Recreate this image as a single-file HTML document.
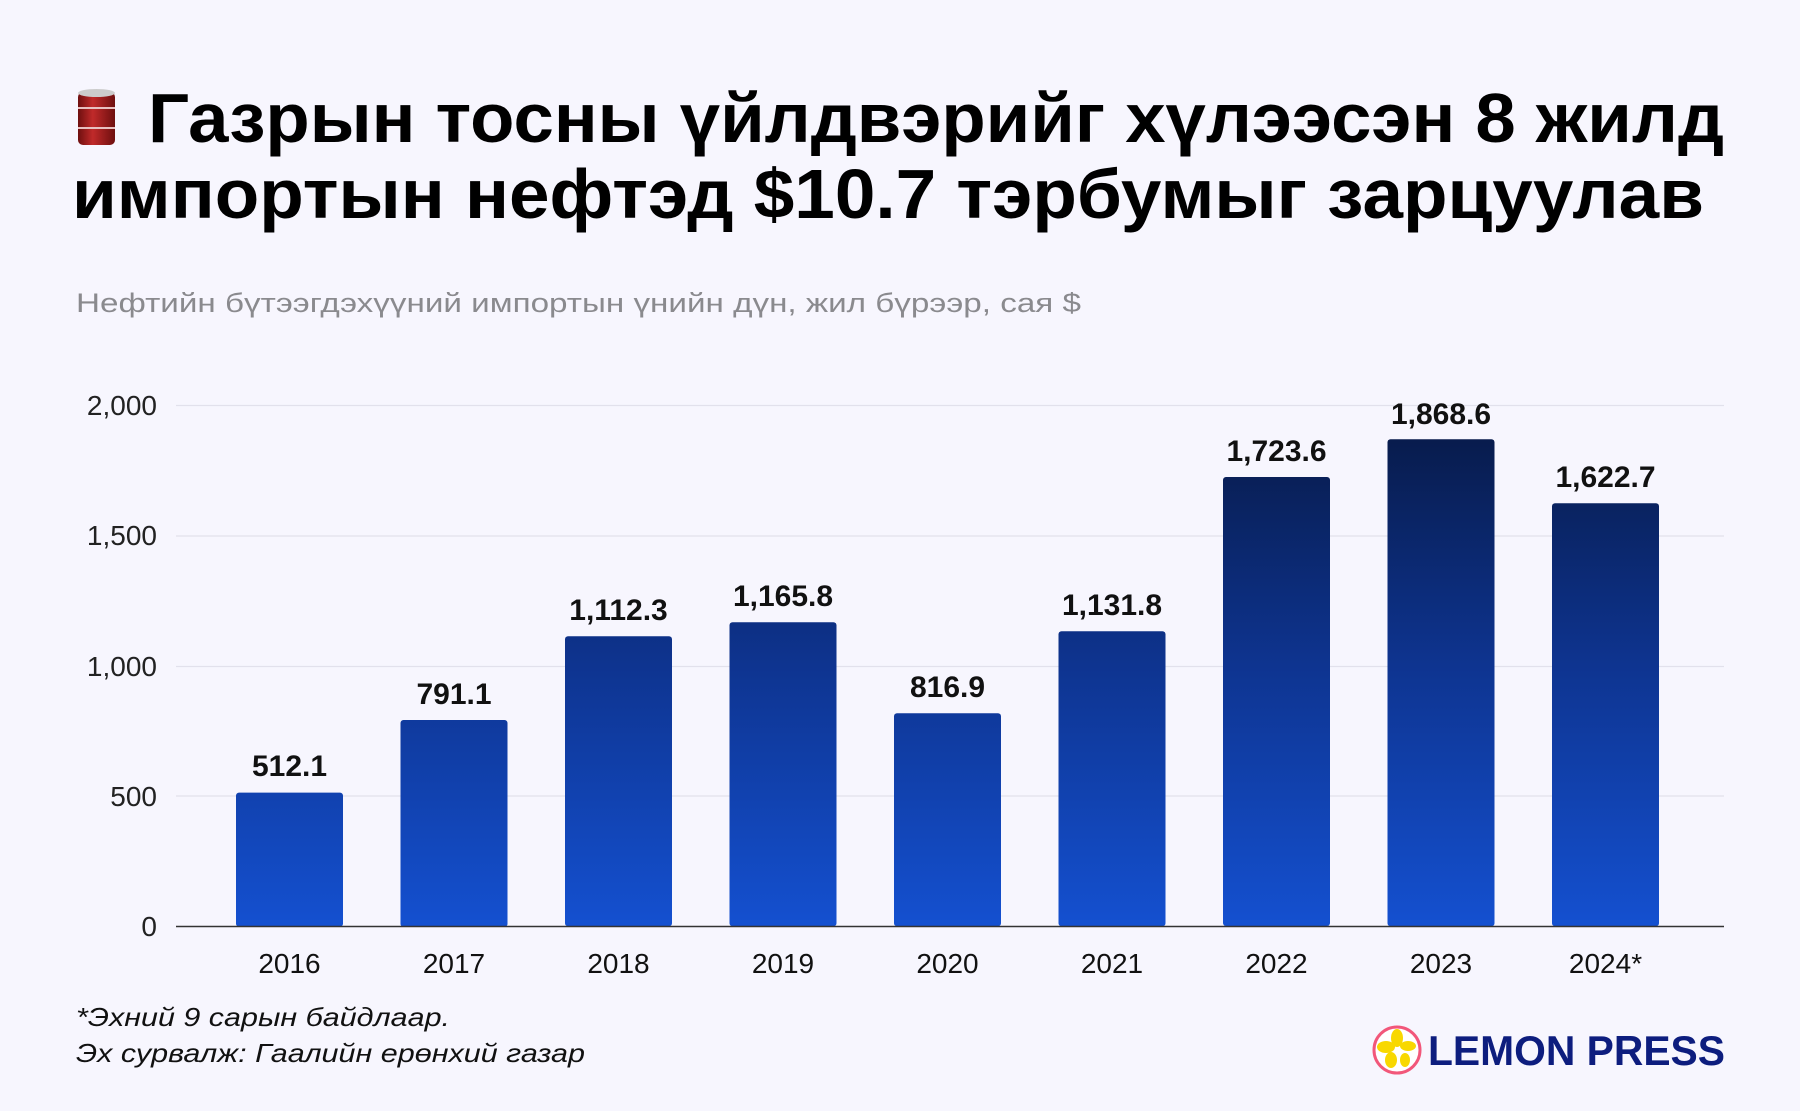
<!DOCTYPE html>
<html><head><meta charset="utf-8"><style>
html,body{margin:0;padding:0;background:#f7f6fe;}
svg{display:block}
</style></head><body>
<svg width="1800" height="1111" viewBox="0 0 1800 1111" xmlns="http://www.w3.org/2000/svg" font-family="'Liberation Sans', sans-serif">
<defs>
<linearGradient id="g" gradientUnits="userSpaceOnUse" x1="0" y1="405" x2="0" y2="926">
<stop offset="0" stop-color="#071843"/>
<stop offset="0.5" stop-color="#0e3490"/>
<stop offset="1" stop-color="#1450d0"/>
</linearGradient>
<linearGradient id="barrel" x1="0" x2="1" y1="0" y2="0">
<stop offset="0" stop-color="#6e0f0f"/><stop offset="0.4" stop-color="#c02a2a"/><stop offset="1" stop-color="#6e0f0f"/>
</linearGradient>
</defs>
<rect width="1800" height="1111" fill="#f7f6fe"/>
<!-- barrel -->
<rect x="78" y="92" width="37" height="53" rx="5" fill="url(#barrel)"/>
<ellipse cx="96.5" cy="93" rx="18.5" ry="4" fill="#ccc"/>
<line x1="78" y1="108" x2="115" y2="108" stroke="#e8c0c0" stroke-width="2"/>
<line x1="78" y1="128" x2="115" y2="128" stroke="#e8c0c0" stroke-width="2"/>
<g font-weight="bold" font-size="70" fill="#000">
<text x="148" y="142" textLength="1576" lengthAdjust="spacingAndGlyphs">Газрын тосны үйлдвэрийг хүлээсэн 8 жилд</text>
<text x="72" y="218" textLength="1632" lengthAdjust="spacingAndGlyphs">импортын нефтэд $10.7 тэрбумыг зарцуулав</text>
</g>
<text x="76" y="312" font-size="27" fill="#8a8a8e" textLength="1005" lengthAdjust="spacingAndGlyphs">Нефтийн бүтээгдэхүүний импортын үнийн дүн, жил бүрээр, сая $</text>
<!-- grid -->
<g stroke="#e2e1ec" stroke-width="1.2">
<line x1="176" x2="1724" y1="405.5" y2="405.5"/>
<line x1="176" x2="1724" y1="536" y2="536"/>
<line x1="176" x2="1724" y1="666.5" y2="666.5"/>
<line x1="176" x2="1724" y1="796" y2="796"/>
</g>
<g font-size="28" fill="#222" text-anchor="end">
<text x="157" y="415">2,000</text>
<text x="157" y="545">1,500</text>
<text x="157" y="676">1,000</text>
<text x="157" y="806">500</text>
<text x="157" y="936">0</text>
</g>
<g fill="url(#g)">
<rect x="236" y="792.6" width="107" height="134" rx="3"/>
<rect x="400.5" y="720" width="107" height="207" rx="3"/>
<rect x="565" y="636.3" width="107" height="290" rx="3"/>
<rect x="729.5" y="622.3" width="107" height="304" rx="3"/>
<rect x="894" y="713.2" width="107" height="213" rx="3"/>
<rect x="1058.5" y="631.2" width="107" height="295" rx="3"/>
<rect x="1223" y="477" width="107" height="449" rx="3"/>
<rect x="1387.5" y="439.2" width="107" height="487" rx="3"/>
<rect x="1552" y="503.3" width="107" height="423" rx="3"/>
</g>
<line x1="176" x2="1724" y1="926.5" y2="926.5" stroke="#333" stroke-width="1.5"/>
<g font-size="30" font-weight="bold" fill="#111" text-anchor="middle">
<text x="289.5" y="776">512.1</text>
<text x="454" y="704">791.1</text>
<text x="618.5" y="620">1,112.3</text>
<text x="783" y="606">1,165.8</text>
<text x="947.5" y="697">816.9</text>
<text x="1112" y="615">1,131.8</text>
<text x="1276.5" y="461">1,723.6</text>
<text x="1441" y="424">1,868.6</text>
<text x="1605.5" y="487">1,622.7</text>
</g>
<g font-size="28" fill="#111" text-anchor="middle">
<text x="289.5" y="973">2016</text>
<text x="454" y="973">2017</text>
<text x="618.5" y="973">2018</text>
<text x="783" y="973">2019</text>
<text x="947.5" y="973">2020</text>
<text x="1112" y="973">2021</text>
<text x="1276.5" y="973">2022</text>
<text x="1441" y="973">2023</text>
<text x="1605.5" y="973">2024*</text>
</g>
<g font-size="26" font-style="italic" fill="#111">
<text x="76" y="1026" textLength="374" lengthAdjust="spacingAndGlyphs">*Эхний 9 сарын байдлаар.</text>
<text x="76" y="1062" textLength="509" lengthAdjust="spacingAndGlyphs">Эх сурвалж: Гаалийн ерөнхий газар</text>
</g>
<!-- logo -->
<circle cx="1397" cy="1050" r="23" fill="#fff" stroke="#f2577a" stroke-width="3"/>
<g fill="#f8d800">
<ellipse cx="1397" cy="1038" rx="6" ry="9"/>
<ellipse cx="1386" cy="1047" rx="9" ry="6"/>
<ellipse cx="1408" cy="1046" rx="8" ry="5"/>
<ellipse cx="1391" cy="1060" rx="6" ry="8"/>
<ellipse cx="1405" cy="1060" rx="5" ry="7"/>
</g>
<text x="1428" y="1065" font-size="42" font-weight="bold" fill="#0d1d7e" textLength="297" lengthAdjust="spacingAndGlyphs">LEMON PRESS</text>
</svg>
</body></html>
